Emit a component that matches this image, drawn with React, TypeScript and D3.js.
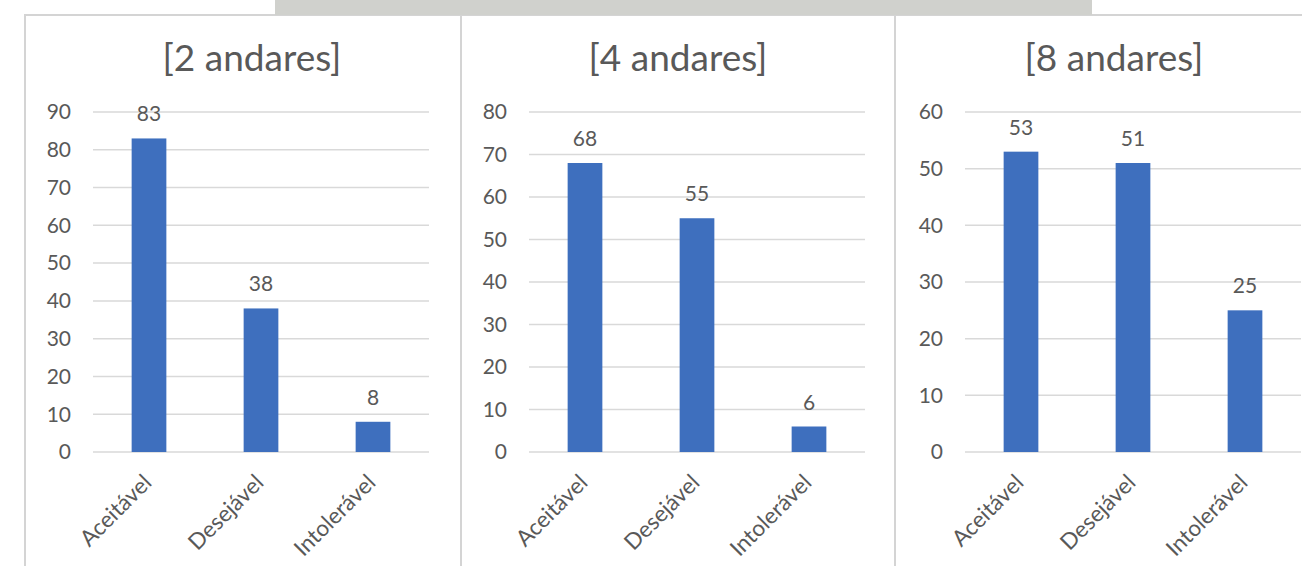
import React from "react";
import * as d3 from "d3";

// categories and values per panel
const categories = ["Aceitável", "Desejável", "Intolerável"];
const titles = ["[2 andares]", "[4 andares]", "[8 andares]"];
const values2 = [83, 38, 8];
const values4 = [68, 55, 6];
const values8 = [53, 51, 25];
const axisMax = [90, 80, 60];

const seriesList = [values2, values4, values8];

// layout of the three panels
const panelLayout = [
  { border: 25, plotX: 93, titleX: 252 },
  { border: 461, plotX: 529, titleX: 678 },
  { border: 895, plotX: 965, titleX: 1114 },
];

const W = 1302;
const H = 566;
const plotW = 336;
const plotTop = 112;
const plotBottom = 452;
const font = "Lato, 'Open Sans', sans-serif";
const textColor = "#595959";
const barColor = "#3e6fbe";
const gridColor = "#d9d9d9";

const Panel = ({ idx }: { idx: number }) => {
  const { plotX, titleX } = panelLayout[idx];
  const values = seriesList[idx];
  const max = axisMax[idx];

  const x = d3
    .scaleBand()
    .domain(categories)
    .range([plotX, plotX + plotW])
    .paddingInner(0.69)
    .paddingOuter(0.345);
  const y = d3.scaleLinear().domain([0, max]).range([plotBottom, plotTop]);
  const ticks = y.ticks(max / 10);

  return (
    <g>
      <text
        x={titleX}
        y={71}
        textAnchor="middle"
        fontSize={37}
        fill={textColor}
        fontFamily={font}
      >
        {titles[idx]}
      </text>
      {ticks.map((t) => (
        <g key={t}>
          <line
            x1={plotX}
            x2={plotX + plotW}
            y1={y(t)}
            y2={y(t)}
            stroke={gridColor}
            strokeWidth={1.5}
          />
          <text
            x={plotX - 22}
            y={y(t)}
            dy="0.35em"
            textAnchor="end"
            fontSize={21}
            fill={textColor}
            fontFamily={font}
          >
            {t}
          </text>
        </g>
      ))}
      {categories.map((c, i) => {
        const bx = x(c) as number;
        const cx = bx + x.bandwidth() / 2;
        return (
          <g key={c}>
            <rect
              x={bx}
              y={y(values[i])}
              width={x.bandwidth()}
              height={plotBottom - y(values[i])}
              fill={barColor}
            />
            <text
              x={cx}
              y={y(values[i]) - 17}
              textAnchor="middle"
              fontSize={21}
              fill={textColor}
              fontFamily={font}
            >
              {values[i]}
            </text>
            <text
              transform={`translate(${cx + 4},${484}) rotate(-45)`}
              textAnchor="end"
              fontSize={22.5}
              fill={textColor}
              fontFamily={font}
            >
              {c}
            </text>
          </g>
        );
      })}
    </g>
  );
};

export default function App() {
  return (
    <div style={{ position: "absolute", left: 0, top: 0 }}>
      <svg width={W} height={H} style={{ display: "block", background: "#fff" }}>
        {/* panel frames */}
        {panelLayout.map((p, i) => (
          <rect
            key={i}
            x={p.border}
            y={15}
            width={(i < 2 ? panelLayout[i + 1].border : W + 10) - p.border}
            height={H}
            fill="#fff"
            stroke="#d4d4d4"
            strokeWidth={2}
          />
        ))}
        {/* grey strip at the top */}
        <rect x={275} y={0} width={817} height={15} fill="#d0d1cd" />
        {panelLayout.map((_, i) => (
          <Panel key={i} idx={i} />
        ))}
      </svg>
    </div>
  );
}
